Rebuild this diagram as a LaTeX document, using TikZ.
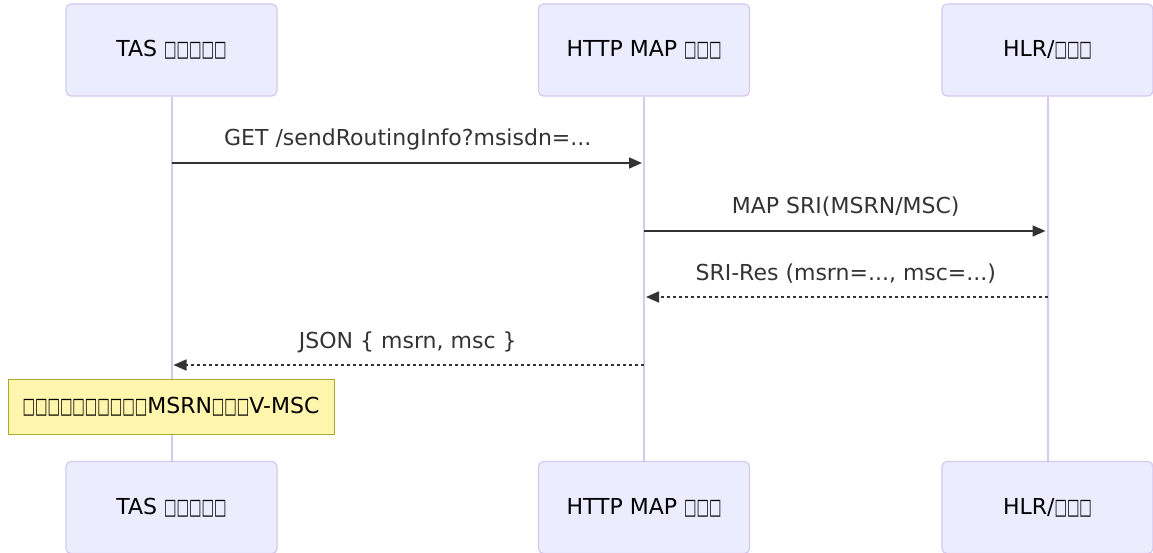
\documentclass[tikz,border=0pt]{standalone}
\usepackage{fontspec}
\usepackage{graphicx}
\setmainfont{DejaVu Sans}
\usetikzlibrary{arrows.meta}
\definecolor{actfill}{HTML}{ECECFF}
\definecolor{actline}{HTML}{D4C8F0}
\definecolor{txt}{HTML}{333333}
\definecolor{notefill}{HTML}{FFF5AD}
\definecolor{noteline}{HTML}{AAAA33}
\newcommand{\tf}{\scalebox{0.6}[1]{□}}
\begin{document}
\begin{tikzpicture}[x=1pt,y=-1pt, font=\fontsize{22}{26}\selectfont,
 actor/.style={draw=actline, fill=actfill, rounded corners=5pt, line width=1.2pt, minimum width=211pt, minimum height=92pt, text=black, inner sep=0pt},
 life/.style={draw=actline, line width=2pt},
 msg/.style={draw=txt, line width=1.6pt, shorten >=2pt, -{Triangle[length=13pt,width=11pt]}},
 reply/.style={msg, dash pattern=on 3pt off 3pt},
 lbl/.style={text=txt, inner sep=0pt, anchor=base, yshift=17pt},
 note/.style={draw=noteline, fill=notefill, line width=1pt, minimum width=326pt, minimum height=55pt, text=black, inner sep=0pt}]
\useasboundingbox (0,0) rectangle (1153,553);
\node[actor] (tasT) at (171.5,50) {TAS \tf\tf\tf\tf\tf};
\node[actor] (httpT) at (644,50) {HTTP MAP \tf\tf\tf};
\node[actor] (hlrT) at (1047.5,50) {HLR/\tf\tf\tf};
\node[actor] (tasB) at (171.5,507.5) {TAS \tf\tf\tf\tf\tf};
\node[actor] (httpB) at (644,507.5) {HTTP MAP \tf\tf\tf};
\node[actor] (hlrB) at (1047.5,507.5) {HLR/\tf\tf\tf};
\draw[life] (tasT) -- (tasB);
\draw[life] (httpT) -- (httpB);
\draw[life] (hlrT) -- (hlrB);
\draw[msg] (tasT |- 0,163) -- node[lbl] (l1) {GET /sendRoutingInfo?msisdn=...} (httpT |- 0,163);
\draw[msg] (httpT |- 0,231) -- node[lbl] (l2) {MAP SRI(MSRN/MSC)} (hlrT |- 0,231);
\draw[reply] (hlrT |- 0,297) -- node[lbl] (l3) {SRI-Res (msrn=..., msc=...)} (httpT |- 0,297);
\draw[reply] (httpT |- 0,365) -- node[lbl] (l4) {JSON \{ msrn, msc \}} (tasT |- 0,365);
\node[note] (n1) at (171,406.5) {\tf\tf\tf\tf\tf\tf\tf\tf\tf\tf MSRN\tf\tf\tf V-MSC};
\end{tikzpicture}
\end{document}
